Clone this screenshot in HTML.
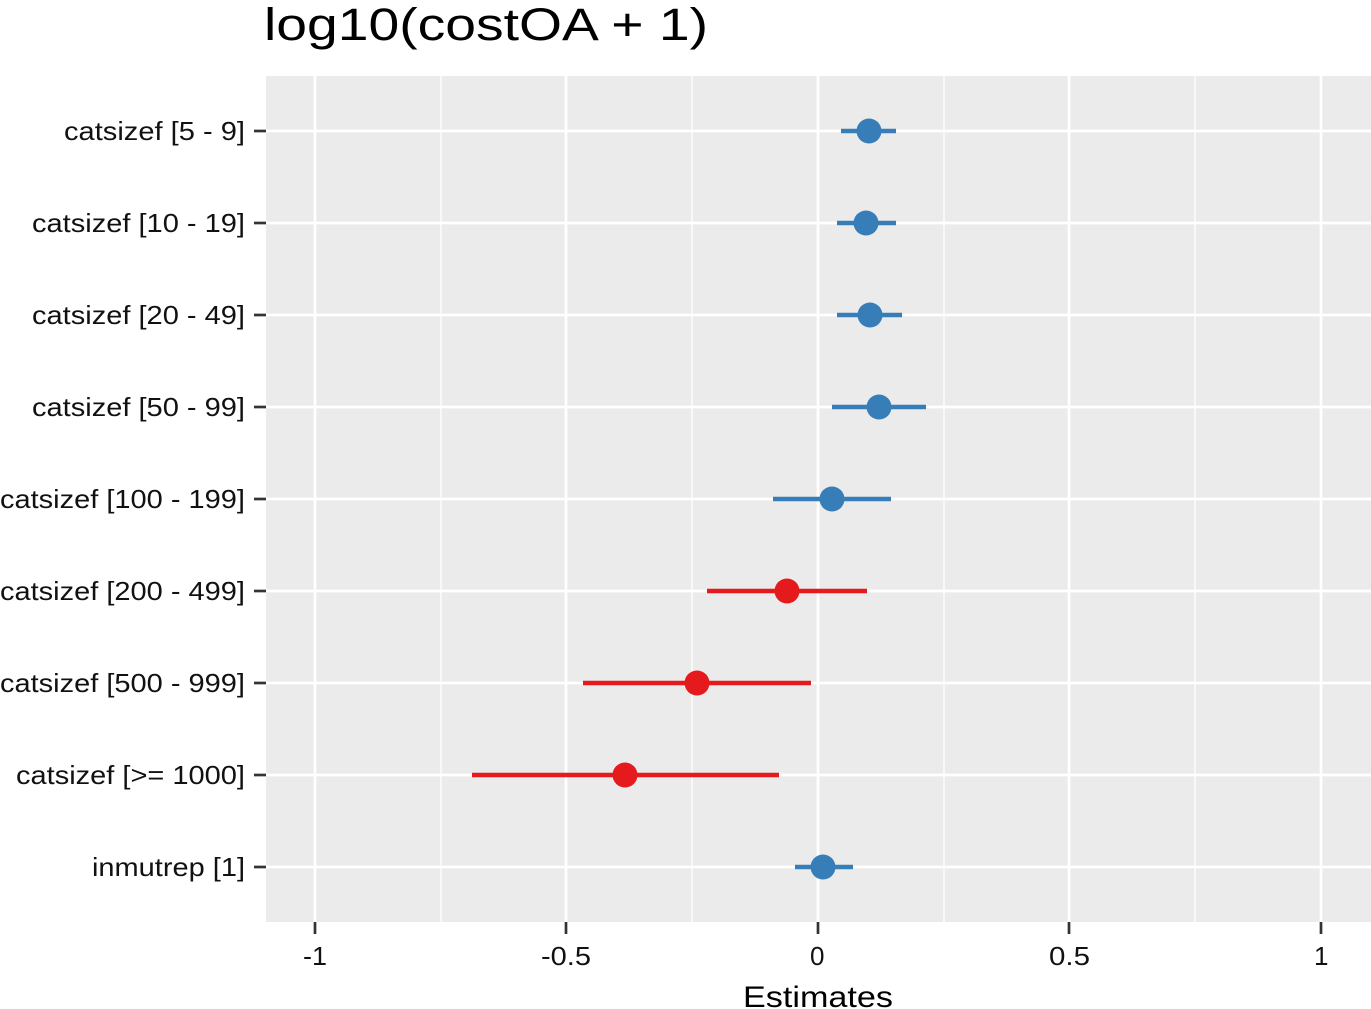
<!DOCTYPE html>
<html><head><meta charset="utf-8"><style>body{margin:0;background:#fff}svg{display:block}text{font-family:"Liberation Sans",Arial,sans-serif}</style></head><body>
<svg width="1371" height="1009" xmlns="http://www.w3.org/2000/svg">
<rect width="1371" height="1009" fill="#fff"/>
<text x="264" y="40" font-size="45" fill="#000" textLength="444" lengthAdjust="spacingAndGlyphs">log10(costOA + 1)</text>
<rect x="266" y="76" width="1105" height="846" fill="#EBEBEB"/>
<g stroke="#fff" stroke-width="1.3">
<line x1="441" y1="76" x2="441" y2="922"/><line x1="692" y1="76" x2="692" y2="922"/><line x1="944" y1="76" x2="944" y2="922"/><line x1="1195" y1="76" x2="1195" y2="922"/>
</g>
<g stroke="#fff" stroke-width="2.7">
<line x1="315" y1="76" x2="315" y2="922"/><line x1="566" y1="76" x2="566" y2="922"/><line x1="818" y1="76" x2="818" y2="922"/><line x1="1069" y1="76" x2="1069" y2="922"/><line x1="1321" y1="76" x2="1321" y2="922"/>
<line x1="266" y1="131" x2="1371" y2="131"/><line x1="266" y1="223" x2="1371" y2="223"/><line x1="266" y1="315" x2="1371" y2="315"/><line x1="266" y1="407" x2="1371" y2="407"/><line x1="266" y1="499" x2="1371" y2="499"/><line x1="266" y1="591" x2="1371" y2="591"/><line x1="266" y1="683" x2="1371" y2="683"/><line x1="266" y1="775" x2="1371" y2="775"/><line x1="266" y1="867" x2="1371" y2="867"/>
</g>
<g stroke-width="4.5">
<line x1="841" y1="131" x2="896" y2="131" stroke="#377EB8"/>
<line x1="837" y1="223" x2="896" y2="223" stroke="#377EB8"/>
<line x1="837" y1="315" x2="902" y2="315" stroke="#377EB8"/>
<line x1="832" y1="407" x2="926" y2="407" stroke="#377EB8"/>
<line x1="773" y1="499" x2="891" y2="499" stroke="#377EB8"/>
<line x1="707" y1="591" x2="867" y2="591" stroke="#E41A1C"/>
<line x1="583" y1="683" x2="811" y2="683" stroke="#E41A1C"/>
<line x1="472" y1="775" x2="779" y2="775" stroke="#E41A1C"/>
<line x1="795" y1="867" x2="853" y2="867" stroke="#377EB8"/>
</g>
<g>
<circle cx="869" cy="131" r="12.5" fill="#377EB8"/>
<circle cx="866" cy="223" r="12.5" fill="#377EB8"/>
<circle cx="870" cy="315" r="12.5" fill="#377EB8"/>
<circle cx="879" cy="407" r="12.5" fill="#377EB8"/>
<circle cx="832" cy="499" r="12.5" fill="#377EB8"/>
<circle cx="787" cy="591" r="12.5" fill="#E41A1C"/>
<circle cx="697" cy="683" r="12.5" fill="#E41A1C"/>
<circle cx="625" cy="775" r="12.5" fill="#E41A1C"/>
<circle cx="823" cy="867" r="12.5" fill="#377EB8"/>
</g>
<g stroke="#333" stroke-width="2.7">
<line x1="254" y1="131" x2="266" y2="131"/><line x1="254" y1="223" x2="266" y2="223"/><line x1="254" y1="315" x2="266" y2="315"/><line x1="254" y1="407" x2="266" y2="407"/><line x1="254" y1="499" x2="266" y2="499"/><line x1="254" y1="591" x2="266" y2="591"/><line x1="254" y1="683" x2="266" y2="683"/><line x1="254" y1="775" x2="266" y2="775"/><line x1="254" y1="867" x2="266" y2="867"/>
<line x1="315" y1="922" x2="315" y2="934"/><line x1="566" y1="922" x2="566" y2="934"/><line x1="818" y1="922" x2="818" y2="934"/><line x1="1069" y1="922" x2="1069" y2="934"/><line x1="1321" y1="922" x2="1321" y2="934"/>
</g>
<g font-size="26" fill="#111" lengthAdjust="spacingAndGlyphs">
<text x="64" y="140" textLength="181" lengthAdjust="spacingAndGlyphs">catsizef [5 - 9]</text>
<text x="32" y="232" textLength="213" lengthAdjust="spacingAndGlyphs">catsizef [10 - 19]</text>
<text x="32" y="324" textLength="213" lengthAdjust="spacingAndGlyphs">catsizef [20 - 49]</text>
<text x="32" y="416" textLength="213" lengthAdjust="spacingAndGlyphs">catsizef [50 - 99]</text>
<text x="0" y="508" textLength="245" lengthAdjust="spacingAndGlyphs">catsizef [100 - 199]</text>
<text x="0" y="600" textLength="245" lengthAdjust="spacingAndGlyphs">catsizef [200 - 499]</text>
<text x="0" y="692" textLength="245" lengthAdjust="spacingAndGlyphs">catsizef [500 - 999]</text>
<text x="16" y="784" textLength="229" lengthAdjust="spacingAndGlyphs">catsizef [&gt;= 1000]</text>
<text x="92" y="876" textLength="153" lengthAdjust="spacingAndGlyphs">inmutrep [1]</text>
</g>
<g font-size="26" fill="#111">
<text x="303" y="965" textLength="24" lengthAdjust="spacingAndGlyphs">-1</text><text x="541" y="965" textLength="50" lengthAdjust="spacingAndGlyphs">-0.5</text><text x="810" y="965">0</text><text x="1049" y="965" textLength="41" lengthAdjust="spacingAndGlyphs">0.5</text><text x="1314" y="965">1</text>
</g>
<text x="743" y="1007" font-size="30" fill="#000" textLength="150" lengthAdjust="spacingAndGlyphs">Estimates</text>
</svg>
</body></html>
